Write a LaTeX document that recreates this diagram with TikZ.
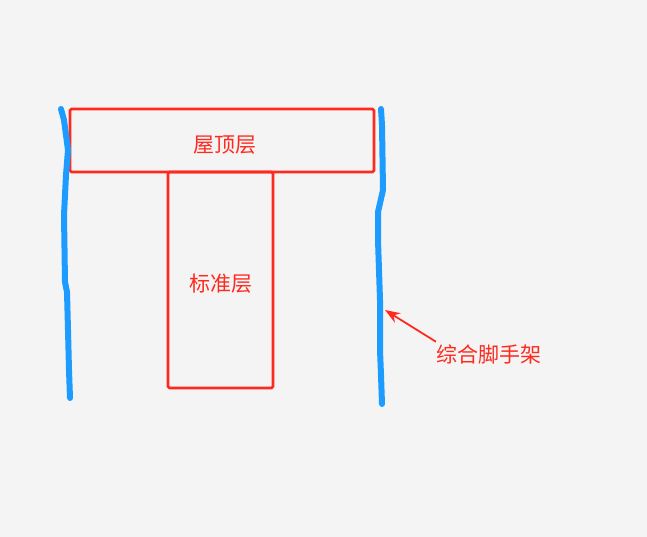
\documentclass[tikz,border=0pt]{standalone}
\usepackage{fontspec}
\newfontfamily\cjk{Noto Sans CJK SC}
\usepackage{tikz}
\usetikzlibrary{arrows.meta, positioning}

\definecolor{bgray}{HTML}{F4F4F4}
\definecolor{redline}{HTML}{FF2A1F}
\definecolor{bluepen}{HTML}{1E9BFF}

\begin{document}
\begin{tikzpicture}[x=1pt, y=-1pt, node distance=0pt,
    every node/.style={font=\cjk\fontsize{21}{25}\selectfont, text=redline},
    layer/.style={draw=redline, line width=2.6pt, rounded corners=1.5pt, rectangle, inner sep=0pt},
    pen/.style={draw=bluepen, line width=6pt, line cap=round, line join=round}]
    % canvas
    \fill[bgray] (0,0) rectangle (647,537);
    \useasboundingbox (0,0) rectangle (647,537);

    % floors
    \node (roof) [layer, minimum width=304pt, minimum height=63pt] at (222,140.5) {};
    \node at (225,145) {屋顶层};

    \node (std) [layer, below=of roof, xshift=-1.5pt, yshift=2.6pt, minimum width=105pt, minimum height=216pt] {};
    \node at (220.5,284) {标准层};

    % scaffolding
    \draw[pen] (61,109) -- (64,120) -- (68,150) -- (66,175) -- (64,215) -- (65,282)
        -- (67,292) -- (68,330) -- (69,370) -- (70,398);
    \draw[pen] (381,109) -- (382,125) -- (383,190) -- (378,212) -- (378,240)
        -- (380,300) -- (380,350) -- (381,375) -- (382,404);

    % label
    \coordinate (tip) at (385,310);
    \node (label) at (489,354) {综合脚手架};
    \draw[-{Stealth[length=15pt, width=11pt]}, redline, line width=1.8pt]
        ([xshift=3pt, yshift=-1pt]label.north west) -- (tip);
\end{tikzpicture}
\end{document}
